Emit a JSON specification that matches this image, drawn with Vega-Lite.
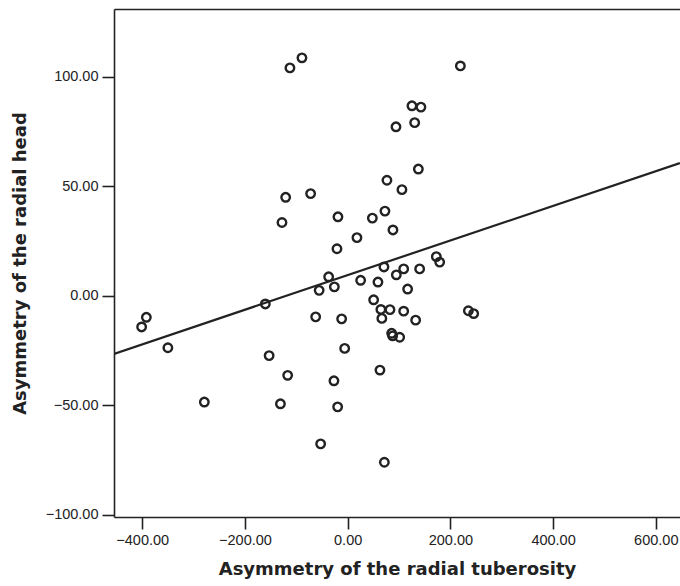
{
  "$schema": "https://vega.github.io/schema/vega-lite/v6.json",
  "width": 566,
  "height": 508,
  "autosize": {"type": "none"},
  "padding": {"left": 114, "top": 9, "right": 0, "bottom": 69},
  "background": "white",
  "config": {
    "view": {"stroke": null},
    "axis": {
      "grid": false,
      "domainColor": "#222",
      "domainWidth": 1.6,
      "tickColor": "#222",
      "tickWidth": 1.6,
      "tickSize": 12,
      "labelColor": "#222",
      "labelFont": "Liberation Sans",
      "labelFontSize": 14.5,
      "titleColor": "#222",
      "titleFont": "DejaVu Sans",
      "titleFontSize": 18,
      "titleFontWeight": "bold"
    }
  },
  "datasets": {
    "points": [
      {"x": -120.7, "y": 45.0}, {"x": -72.1, "y": 46.7}, {"x": -127.9, "y": 33.5},
      {"x": -18.9, "y": 36.1}, {"x": 48.1, "y": 35.5}, {"x": 72.6, "y": 38.7},
      {"x": 76.5, "y": 52.8}, {"x": 105.7, "y": 48.5}, {"x": 88.2, "y": 30.1},
      {"x": 18.1, "y": 26.6}, {"x": -20.8, "y": 21.5}, {"x": 70.7, "y": 13.2},
      {"x": 94.8, "y": 9.6}, {"x": -37.0, "y": 8.7}, {"x": -55.5, "y": 2.5},
      {"x": -25.9, "y": 4.1}, {"x": 25.3, "y": 7.1}, {"x": 59.0, "y": 6.3},
      {"x": -160.3, "y": -3.7}, {"x": -392.0, "y": -9.8}, {"x": -401.2, "y": -14.2},
      {"x": -350.1, "y": -23.7}, {"x": -62.3, "y": -9.6}, {"x": -11.7, "y": -10.5},
      {"x": 50.6, "y": -1.8}, {"x": 64.7, "y": -6.2}, {"x": 82.4, "y": -6.3},
      {"x": 66.6, "y": -10.3}, {"x": 85.7, "y": -17.1}, {"x": 87.6, "y": -18.3},
      {"x": 101.3, "y": -18.9}, {"x": -5.8, "y": -24.0}, {"x": -112.4, "y": 104.1},
      {"x": -89.0, "y": 108.7}, {"x": 219.5, "y": 105.0}, {"x": 125.2, "y": 86.8},
      {"x": 142.7, "y": 86.2}, {"x": 130.5, "y": 79.1}, {"x": 94.1, "y": 77.2},
      {"x": 137.7, "y": 57.9}, {"x": 172.7, "y": 17.9}, {"x": 179.2, "y": 15.4},
      {"x": 109.1, "y": 12.3}, {"x": 140.2, "y": 12.3}, {"x": 116.8, "y": 3.1},
      {"x": 109.1, "y": -7.0}, {"x": 132.4, "y": -11.1}, {"x": 235.1, "y": -6.8},
      {"x": 245.4, "y": -8.1}, {"x": -152.9, "y": -27.3}, {"x": 62.9, "y": -33.9},
      {"x": -116.8, "y": -36.3}, {"x": -26.7, "y": -38.8}, {"x": -130.9, "y": -49.3},
      {"x": -19.5, "y": -50.7}, {"x": -52.6, "y": -67.6}, {"x": 71.5, "y": -76.0},
      {"x": -279.1, "y": -48.5}
    ],
    "fit": [
      {"x": -455, "y": -26.5},
      {"x": 647, "y": 60.6}
    ]
  },
  "layer": [
    {
      "data": {"name": "fit"},
      "mark": {"type": "line", "color": "#222", "strokeWidth": 2.2, "clip": true},
      "encoding": {
        "x": {
          "field": "x", "type": "quantitative",
          "scale": {"domain": [-455, 647.2], "nice": false, "zero": false},
          "axis": {"orient": "top", "labels": false, "ticks": false, "title": null}
        },
        "y": {
          "field": "y", "type": "quantitative",
          "scale": {"domain": [-101, 131], "nice": false, "zero": false},
          "axis": {
            "values": [-100, -50, 0, 50, 100],
            "format": ".2f",
            "labelPadding": 4,
            "title": "Asymmetry of the radial head",
            "titlePadding": 16
          }
        }
      }
    },
    {
      "data": {"name": "points"},
      "mark": {"type": "point", "shape": "circle", "filled": false, "stroke": "#222", "strokeWidth": 2.4, "size": 72, "opacity": 1, "clip": true},
      "encoding": {
        "x": {
          "field": "x", "type": "quantitative",
          "axis": {
            "orient": "bottom",
            "values": [-400, -200, 0, 200, 400, 600],
            "format": ".2f",
            "labelPadding": 4,
            "title": "Asymmetry of the radial tuberosity",
            "titlePadding": 14
          }
        },
        "y": {"field": "y", "type": "quantitative"}
      }
    }
  ]
}
